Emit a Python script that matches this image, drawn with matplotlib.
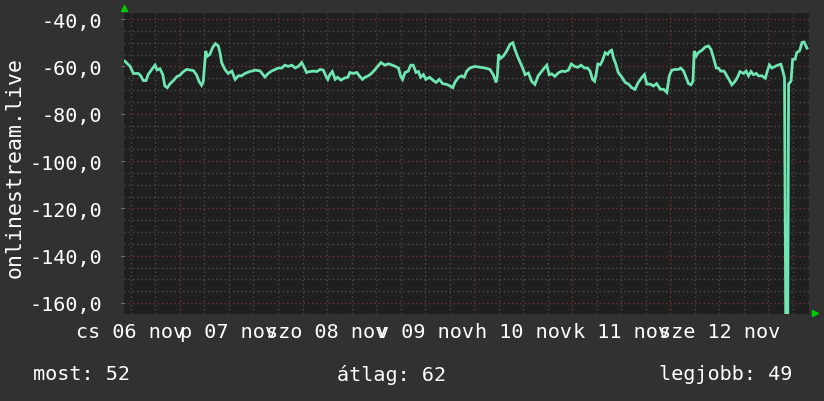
import matplotlib
matplotlib.use('Agg')
import matplotlib.pyplot as plt
from matplotlib.ticker import FixedLocator, MultipleLocator

# Data: hours relative to the first major grid line, signal value
hours = [-13.5, -12.2, -11.4, -10.2, -9.6, -9.0, -8.3, -7.8, -6.9, -6.1, -5.6, -4.9, -4.2, -3.7, -3.1,
         -2.4, -1.6, -0.8, 0.0, 0.8, 1.6, 2.4, 3.3, 4.1, 4.7, 5.3, 5.7, 6.3, 6.7, 7.3, 8.0, 8.7, 9.4,
         9.8, 10.2, 11.0, 11.8, 12.7, 13.5, 14.3, 15.1, 15.9, 17.1, 18.4,
         19.6, 20.8, 21.6, 22.4, 23.3, 24.1, 24.9, 25.7, 26.5, 27.4, 28.2, 29.0, 29.8, 30.5, 31.0,
         31.8, 32.7, 33.5, 34.3, 35.1, 35.7, 36.2, 36.7, 37.3, 38.0, 38.6, 39.4, 40.2, 41.1, 41.6,
         42.4, 43.3, 44.1, 44.7, 45.3, 46.1, 46.9, 47.8, 48.4, 49.2, 50.2, 51.0,
         52.0, 52.7, 53.5, 54.0, 54.5, 55.1, 55.9, 56.5, 57.1, 57.8, 58.4, 58.9, 59.6, 60.2, 61.1,
         61.9, 62.7, 63.5, 64.3, 65.3, 66.1, 66.8, 67.3, 68.2, 69.0, 69.6, 70.2, 71.0, 72.2, 73.5,
         74.7, 75.9, 76.7, 77.4, 77.7, 78.0, 78.5, 79.2, 80.0, 80.8, 81.5, 82.0, 82.6, 83.3, 83.9,
         84.5, 85.3, 86.1, 86.9, 87.7, 88.6, 89.2, 89.8, 90.4, 91.0, 91.8, 92.6, 93.5, 94.3, 95.1,
         95.8, 96.6, 97.4, 98.2, 99.0, 99.8, 100.4, 101.0, 101.5, 101.9, 102.3, 102.9, 103.4, 104.1,
         104.7, 105.3, 105.7, 106.1, 106.7, 107.3, 108.2, 109.0, 109.8, 110.6, 111.4, 112.2, 113.1,
         113.7, 114.3, 115.1, 115.9, 116.7, 117.6,
         118.4, 119.2, 119.8, 120.4, 121.2, 122.0, 122.6, 123.3, 123.9, 124.5, 125.1, 125.6, 125.9,
         126.4, 126.9, 127.8, 128.6, 129.4, 130.0, 130.6, 131.3, 131.8, 132.4, 133.2, 133.9, 134.5,
         135.1, 135.9, 136.5, 137.1, 138.0, 138.6, 139.2, 139.8, 140.4, 141.1, 141.6, 142.5, 143.3,
         143.8, 144.3, 144.9, 145.7, 146.5, 147.1, 147.6, 148.0, 148.3, 148.8, 149.0, 149.6, 150.0,
         150.6, 151.0, 151.7, 152.3, 152.8, 153.5]
values = [-57.8, -60, -63, -63, -64, -66, -66, -63.5, -61.3, -59.5, -61.5, -61, -63.5, -68.3, -69,
          -67.3, -66, -64.4, -63.7, -62.3, -61.3, -61.5, -61.8, -63.7, -66.5, -68, -66.5, -53.5, -55.7,
          -55, -52, -50.4, -51.4, -54.2, -58.4, -61.3, -63, -62, -65.5, -64, -64, -63, -62.2, -61.6,
          -61.9, -64.5, -63, -62, -61.3, -60.7, -60.7, -59.5, -60, -59.5, -60.7, -60, -58.4, -60.7,
          -62.6, -62.2, -62, -62.2, -61.3, -61.6, -64, -65.5, -63.5, -62.2, -65.5, -64.6, -65.8, -65,
          -64.6, -62.6, -63, -62.6, -64.4, -65.5, -64.6, -64, -63, -61.3, -60, -58.4, -59.5, -58.9,
          -59.5, -60, -60.7, -64, -65.5, -62.6, -62, -59.5, -59.5, -62.6, -62.2, -64.6, -63.5, -65.5,
          -64.6, -65.8, -66.8, -65.5, -67.3, -67.6, -68.3, -69, -66.8, -64.6, -64, -64.6, -62, -60.7,
          -60, -60.4, -60.7, -61.3, -63.5, -66.8, -64, -54.9, -56.6, -55.6, -53.5, -50.7, -50, -52.8,
          -55.6, -58.4, -60.7, -63.5, -62.8, -66.3, -67.6, -64, -62, -60.7, -59.5, -63.5, -63.2,
          -64.2, -62.8, -62, -62.2, -61.6, -59, -60, -60.4, -59.5, -60.7, -60.7, -62, -65.5, -66.3,
          -63.2, -59, -59.3, -57.7, -54.2, -54.9, -53.5, -53.2, -56.3, -59, -62.6, -64.6, -66.8,
          -67.5, -69, -69.7, -66.8, -64.6, -63.5, -67.5, -67.5, -68.3, -67.3, -69.7,
          -69.7, -71, -64, -61.6, -61.3, -61.3, -60.7, -62, -64.6, -67.3, -67.8, -66.3, -53.5,
          -55.6, -54.2, -53.2, -51.8, -51.4, -52.8, -56.3, -60.7, -60.7, -62, -62, -64, -65.8,
          -67.8, -66.3, -64.6, -62.2, -63, -62, -64, -62.2, -63.5, -63, -64, -64, -65,
          -62, -59.4, -60.7, -60, -59.4, -59.1, -62, -64.8, -166, -166, -67.5, -66.2, -57,
          -57, -54.2, -53.4, -49.9, -49.7, -52.3]

day_labels = ['cs 06 nov', 'p 07 nov', 'szo 08 nov', 'v 09 nov', 'h 10 nov', 'k 11 nov', 'sze 12 nov']
label_hours = [-12, 12, 36, 60, 84, 108, 132]
y_ticks = [-160, -140, -120, -100, -80, -60, -40]
legend_items = ['most: 52', 'átlag: 62', 'legjobb: 49']

bg = '#313131'
plot_bg = '#1f1f1f'
line_color = '#6fe6b2'
mono = 'DejaVu Sans Mono'

fig = plt.figure(figsize=(8.24, 4.02), dpi=100, facecolor=bg)
ax = fig.add_axes([124 / 824, 1 - 315 / 402, 685 / 824, 301 / 402])
ax.set_facecolor(plot_bg)

ax.set_xlim(-13.7, 154.0)
ax.set_ylim(-164.65, -37.45)

# grid
ax.xaxis.set_major_locator(MultipleLocator(24))
ax.xaxis.set_minor_locator(MultipleLocator(6))
ax.yaxis.set_major_locator(FixedLocator(y_ticks))
ax.yaxis.set_minor_locator(MultipleLocator(5))
ax.grid(which='minor', color='#4a4a4a', linestyle=(0, (1, 2)), linewidth=1)
ax.grid(which='major', color='#6e3434', linestyle=(0, (1, 2)), linewidth=1)
ax.set_axisbelow(True)

ax.plot(hours, values, color=line_color, linewidth=2.0, solid_joinstyle='miter')

for s in ax.spines.values():
    s.set_visible(False)

ax.set_yticklabels([f'{v:.1f}'.replace('.', ',') for v in y_ticks], fontfamily=mono,
                   fontsize=14.5, color='white')
ax.tick_params(axis='y', which='major', length=2, color='#777777', pad=14)
ax.tick_params(axis='x', which='major', length=0, labelbottom=False)
ax.tick_params(which='minor', length=0)

for h, lab in zip(label_hours, day_labels):
    ax.text(h, -168.0, lab, ha='center', va='top', fontfamily=mono, fontsize=14.5,
            color='white', clip_on=False)

ax.set_ylabel('onlinestream.live', fontfamily=mono, fontsize=15.5, color='white')
ax.yaxis.set_label_coords(-0.145, 0.49)

# rrd style axis arrows
ax.plot([0], [1.015], marker='^', color='#00cc00', markersize=5, transform=ax.transAxes, clip_on=False)
ax.plot([1.009], [0.004], marker='>', color='#00cc00', markersize=5, transform=ax.transAxes, clip_on=False)

fig.text(33 / 824, 1 - 375 / 402, legend_items[0], ha='left', va='center', fontfamily=mono,
         fontsize=14.5, color='white')
fig.text(392 / 824, 1 - 375 / 402, legend_items[1], ha='center', va='center', fontfamily=mono,
         fontsize=14.5, color='white')
fig.text(792 / 824, 1 - 375 / 402, legend_items[2], ha='right', va='center', fontfamily=mono,
         fontsize=14.5, color='white')

fig.savefig('out.png', dpi=100, facecolor=bg)
